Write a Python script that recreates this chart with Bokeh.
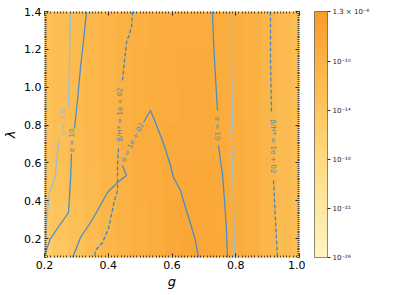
import numpy as np
from bokeh.plotting import figure
from bokeh.layouts import row
from bokeh.models import (LinearColorMapper, LinearAxis, FixedTicker, Label,
                          ColumnDataSource)
from bokeh.embed import file_html
from bokeh.resources import INLINE
from bokeh.core.properties import value

FONT = "DejaVu Sans"
nan = float("nan")

# ---------------- data ----------------
# background field: log10(Omega_GW h^2), columns g = 0.20..1.00 step 0.05, rows lambda = 0.1..1.3 step 0.2
g_cols = [0.2, 0.25, 0.3, 0.35, 0.4, 0.45, 0.5, 0.55, 0.6, 0.65, 0.7, 0.75, 0.8, 0.85, 0.9, 0.95, 1.0]
lam_rows = [0.1, 0.3, 0.5, 0.7, 0.9, 1.1, 1.3]
log_omega = [
    [-15.0, -14.0, -13.0, -12.0, -11.0, -10.2, -9.5, -8.8, -8.2, -7.9, -8.0, -8.3, -8.8, -9.5, -10.6, -11.8, -12.6],
    [-14.2, -13.4, -12.5, -11.6, -10.8, -10.0, -9.4, -8.8, -8.3, -8.0, -8.1, -8.4, -8.9, -9.5, -10.6, -11.8, -12.6],
    [-13.6, -12.9, -12.1, -11.3, -10.6, -9.9, -9.3, -8.8, -8.4, -8.2, -8.3, -8.6, -9.0, -9.6, -10.7, -11.8, -12.6],
    [-13.2, -12.5, -11.8, -11.1, -10.4, -9.8, -9.3, -8.9, -8.6, -8.4, -8.5, -8.7, -9.1, -9.7, -10.7, -11.8, -12.6],
    [-13.0, -12.3, -11.7, -11.0, -10.4, -9.9, -9.4, -9.0, -8.8, -8.6, -8.6, -8.8, -9.2, -9.7, -10.7, -11.8, -12.6],
    [-12.8, -12.2, -11.6, -11.0, -10.4, -9.9, -9.5, -9.1, -8.9, -8.7, -8.7, -8.9, -9.2, -9.8, -10.8, -11.8, -12.6],
    [-12.7, -12.1, -11.5, -11.0, -10.5, -10.0, -9.6, -9.2, -9.0, -8.8, -8.8, -8.9, -9.3, -9.8, -10.8, -11.8, -12.6],
]
cb_low = -26.0
cb_high = float(np.log10(1.3e-6))
cb_ticks = [-26.0, -22.0, -18.0, -14.0, -10.0, cb_high]
cb_tick_labels = ["10⁻²⁶", "10⁻²²", "10⁻¹⁸", "10⁻¹⁴", "10⁻¹⁰", "1.3 × 10⁻⁶"]

x_ticks = [0.2, 0.4, 0.6, 0.8, 1.0]
x_tick_labels = ["0.2", "0.4", "0.6", "0.8", "1.0"]
y_ticks = [0.2, 0.4, 0.6, 0.8, 1.0, 1.2, 1.4]
y_tick_labels = ["0.2", "0.4", "0.6", "0.8", "1.0", "1.2", "1.4"]

# contour lines (g, lambda); nan = gap where the inline label sits
a29_left_g = [0.2816, 0.2784, 0.2753, nan, 0.2470, 0.2376, 0.2345, 0.2157, 0.2060, 0.2000]
a29_left_l = [1.4000, 1.1410, 0.8927, nan, 0.7289, 0.6112, 0.5333, 0.4435, 0.2850, 0.1211]
a10_left_g = [0.3318, 0.3224, 0.3130, 0.3035, 0.2940, nan, 0.2847, 0.2816, 0.2753, 0.2188, 0.2030, 0.2000]
a10_left_l = [1.4000, 1.2467, 1.1040, 0.9297, 0.7817, nan, 0.6496, 0.5069, 0.3378, 0.2004, 0.1264, 0.1106]
bh_left_g = [0.4760, 0.4729, 0.4573, 0.4510, 0.4447, nan, 0.4322, 0.4290, 0.4290, 0.4196, 0.4008, 0.3820, 0.3600, 0.3570]
bh_left_l = [1.4000, 1.3154, 1.2362, 1.1410, 1.0354, nan, 0.6760, 0.5862, 0.4541, 0.4012, 0.2532, 0.1793, 0.1370, 0.1000]
a100_g = [0.2878, 0.2973, 0.3130, 0.3443, 0.3663, 0.3976, 0.4290, 0.4573, 0.4447, nan,
          0.5106, 0.5325, 0.5482, 0.5733, 0.5953, 0.6047, 0.6267, 0.6424, 0.6580, 0.6737, 0.6831]
a100_l = [0.1000, 0.1370, 0.2057, 0.2850, 0.3484, 0.4435, 0.4963, 0.5333, 0.5862, nan,
          0.8134, 0.8768, 0.8134, 0.7024, 0.5862, 0.5227, 0.4541, 0.3642, 0.2797, 0.1898, 0.1000]
a10_right_g = [0.7270, 0.7302, 0.7365, 0.7427, nan, 0.7459, 0.7522, 0.7584, 0.7647, 0.7710, 0.7741]
a10_right_l = [1.4000, 1.2467, 1.0512, 0.8768, nan, 0.6919, 0.6112, 0.5439, 0.4012, 0.2427, 0.1000]
a29_right_g = [0.7867, 0.7867, 0.7898, nan, 0.7898, 0.7930, 0.7961]
a29_right_l = [1.4000, 1.1410, 0.7870, nan, 0.6284, 0.4012, 0.1000]
bh_right_g = [0.9090, 0.9090, 0.9122, nan, 0.9184, 0.9247, 0.9310]
bh_right_l = [1.4000, 1.1410, 0.8610, nan, 0.5069, 0.2955, 0.1000]

lab_text = ["α = 2.9", "α = 10", "β/H* = 1e + 02", "α = 1e + 02", "α = 10", "α = 2.9", "β/H* = 1e + 02"]
lab_g = [0.2565, 0.2878, 0.4353, 0.4761, 0.7427, 0.7898, 0.9153]
lab_l = [0.8134, 0.7183, 0.8557, 0.7077, 0.7817, 0.7077, 0.6866]
lab_angle = [np.pi / 2, np.pi / 2, np.pi / 2, 1.098, -np.pi / 2, -np.pi / 2, -np.pi / 2]

DARK = "#4a8ec4"
LIGHT = "#9dbdd6"
DASH = "#3f86c0"
lab_color = [LIGHT, DARK, DASH, DARK, DARK, LIGHT, DASH]

# ---------------- palette ----------------
anchors = [(0.0, "#fff5c0"), (0.2, "#fee8a0"), (0.4, "#fed980"), (0.6, "#fdc660"),
           (0.8, "#fbb243"), (1.0, "#f99b2b")]


def hex2rgb(h):
    return [int(h[i:i + 2], 16) for i in (1, 3, 5)]


palette = []
for i in range(256):
    t = i / 255
    for (t0, c0), (t1, c1) in zip(anchors[:-1], anchors[1:]):
        if t0 <= t <= t1:
            f = (t - t0) / (t1 - t0)
            a, b = hex2rgb(c0), hex2rgb(c1)
            palette.append("#%02x%02x%02x" % tuple(round(a[k] + (b[k] - a[k]) * f) for k in range(3)))
            break

mapper = LinearColorMapper(palette=palette, low=cb_low, high=cb_high)

# ---------------- main figure ----------------
p = figure(width=305, height=295, x_range=(0.2, 1.0), y_range=(0.1, 1.4),
           min_border_left=44, min_border_right=6, min_border_top=11, min_border_bottom=38,
           toolbar_location=None, output_backend="svg")
p.grid.visible = False
p.outline_line_color = None

dg = g_cols[1] - g_cols[0]
dl = lam_rows[1] - lam_rows[0]
p.image(image=[np.array(log_omega)], x=g_cols[0] - dg / 2, y=lam_rows[0] - dl / 2,
        dw=dg * len(g_cols), dh=dl * len(lam_rows), color_mapper=mapper)

p.line(a29_left_g, a29_left_l, line_color=LIGHT, line_width=1.3)
p.line(a10_left_g, a10_left_l, line_color=DARK, line_width=1.3)
p.line(bh_left_g, bh_left_l, line_color=DASH, line_width=1.3, line_dash="4 2")
p.line(a100_g, a100_l, line_color=DARK, line_width=1.3)
p.line(a10_right_g, a10_right_l, line_color=DARK, line_width=1.3)
p.line(a29_right_g, a29_right_l, line_color=LIGHT, line_width=1.3)
p.line(bh_right_g, bh_right_l, line_color=DASH, line_width=1.3, line_dash="4 2")

src = ColumnDataSource(dict(x=lab_g, y=lab_l, text=lab_text, angle=lab_angle, color=lab_color))
p.text(x="x", y="y", text="text", angle="angle", text_color="color", source=src,
       text_font=value(FONT), text_font_size=value("7px"), text_align="center",
       text_baseline="middle")

minor_x = [round(v, 3) for v in np.arange(0.2, 1.0001, 0.01)]
minor_y = [round(v, 3) for v in np.arange(0.1, 1.4001, 0.01)]


def style(ax, ticks, minor, labels, show):
    ax.ticker = FixedTicker(ticks=ticks, minor_ticks=minor)
    ax.major_tick_in = 4
    ax.major_tick_out = 0
    ax.minor_tick_in = 2
    ax.minor_tick_out = 0
    ax.axis_line_color = None
    ax.major_tick_line_color = "#222222"
    ax.minor_tick_line_color = "#444444"
    ax.major_label_text_font = FONT
    if show:
        ax.major_label_overrides = {t: l for t, l in zip(ticks, labels)}
        ax.major_label_text_color = "#000000"
        ax.major_label_text_font_size = "11px"
        ax.major_label_standoff = 3
    else:
        ax.major_label_overrides = {t: "" for t in ticks}
        ax.major_label_text_color = None
        ax.major_label_text_font_size = "1px"
        ax.major_label_standoff = 0


style(p.xaxis[0], x_ticks, minor_x, x_tick_labels, True)
style(p.yaxis[0], y_ticks, minor_y, y_tick_labels, True)
p.xaxis[0].axis_label = "g"
p.yaxis[0].axis_label = "λ"
for ax in (p.xaxis[0], p.yaxis[0]):
    ax.axis_label_text_font = FONT
    ax.axis_label_text_font_style = "italic"
    ax.axis_label_text_font_size = "13px"
    ax.axis_label_text_color = "#000000"
p.xaxis[0].axis_label_standoff = 2
p.yaxis[0].axis_label_standoff = 3

top_ax = LinearAxis()
style(top_ax, x_ticks, minor_x, x_tick_labels, False)
p.add_layout(top_ax, "above")
right_ax = LinearAxis()
style(right_ax, y_ticks, minor_y, y_tick_labels, False)
p.add_layout(right_ax, "right")

# ---------------- colour bar figure ----------------
cb = figure(width=88, height=295, x_range=(0, 1), y_range=(cb_low, cb_high),
            min_border_left=9, min_border_right=66, min_border_top=11, min_border_bottom=38,
            x_axis_location=None, y_axis_location="right",
            toolbar_location=None, output_backend="svg")
cb.grid.visible = False
cb.outline_line_color = "#666666"
cb.image(image=[np.linspace(cb_low, cb_high, 256).reshape(-1, 1)], x=0, y=cb_low,
         dw=1, dh=cb_high - cb_low, color_mapper=mapper)
yax = cb.yaxis[0]
yax.ticker = FixedTicker(ticks=cb_ticks, minor_ticks=[])
yax.major_label_overrides = {t: l for t, l in zip(cb_ticks, cb_tick_labels)}
yax.major_tick_in = 0
yax.major_tick_out = 3
yax.minor_tick_out = 0
yax.axis_line_color = None
yax.major_tick_line_color = "#333333"
yax.major_label_text_font = FONT
yax.major_label_text_font_size = "7px"
yax.major_label_text_color = "#222222"
yax.major_label_standoff = 2

for txt, x, y, size in [("Ω", 64, 109, "12px"), ("GW", 67, 118, "7px"), ("h²", 64, 128, "12px")]:
    cb.add_layout(Label(x=x, y=y, x_units="screen", y_units="screen", text=txt, angle=np.pi / 2,
                        text_font=FONT, text_font_style="italic" if txt == "h²" else "normal",
                        text_font_size=size, text_align="left", text_baseline="middle",
                        text_color="#111111"))

layout = row(p, cb)
open("out.html", "w").write(file_html(layout, INLINE))
